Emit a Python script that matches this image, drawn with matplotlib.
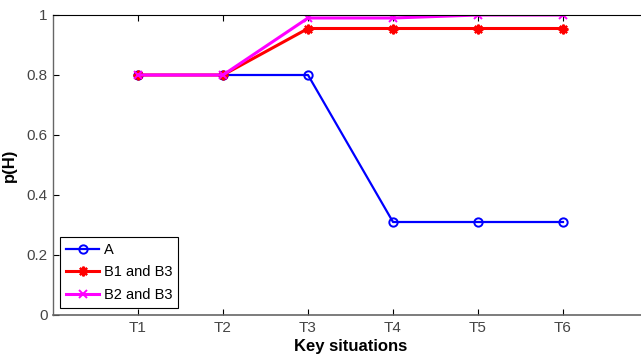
import matplotlib
matplotlib.use("Agg")
import matplotlib.pyplot as plt

# data
situations = ["T1", "T2", "T3", "T4", "T5", "T6"]
x_pos = [1, 2, 3, 4, 5, 6]
p_a = [0.8, 0.8, 0.8, 0.31, 0.31, 0.31]
p_b1b3 = [0.8, 0.8, 0.955, 0.955, 0.955, 0.955]
p_b2b3 = [0.8, 0.8, 0.99, 0.99, 1.0, 1.0]

plt.rcParams["font.family"] = ["Liberation Sans", "DejaVu Sans"]

fig = plt.figure(figsize=(6.41, 3.6), dpi=100)
ax = fig.add_axes([53 / 641, 45 / 360, 595 / 641, 300 / 360])

ax.plot(x_pos, p_a, color="#0000ff", lw=1.6, marker="o", ms=6,
        mfc="none", mec="#0000ff", mew=1.4, label="A")
ax.plot(x_pos, p_b1b3, color="#ff0000", lw=2.2, marker=(8, 2, 0), ms=7,
        mec="#ff0000", mew=1.6, label="B1 and B3")
ax.plot(x_pos, p_b2b3, color="#ff00ff", lw=2.2, marker="x", ms=6,
        mew=1.4, label="B2 and B3")

ax.set_xlim(0, 7)
ax.set_ylim(0, 1)
ax.set_xticks(x_pos)
ax.set_xticklabels(situations)
ax.set_yticks([0, 0.2, 0.4, 0.6, 0.8, 1])
ax.set_yticklabels(["0", "0.2", "0.4", "0.6", "0.8", "1"])
ax.tick_params(direction="in", length=4, width=0.8, colors="black",
               labelcolor="#454545", labelsize=11, top=True, right=True, pad=4)

ax.spines["bottom"].set_color("#666666")
ax.spines["left"].set_color("#666666")
ax.spines["top"].set_color("black")
ax.spines["bottom"].set_linewidth(1.2)
ax.spines["left"].set_linewidth(1.0)

ax.set_xlabel("Key situations", fontsize=12, fontweight="bold", labelpad=3)
ax.set_ylabel("p(H)", fontsize=12, fontweight="bold", labelpad=7)

leg = ax.legend(loc="lower left", bbox_to_anchor=(7 / 595, 7 / 300),
                fontsize=10.5, frameon=True, fancybox=False, framealpha=1,
                edgecolor="black", borderpad=0.4, labelspacing=0.6,
                handlelength=2.3, handletextpad=0.3, borderaxespad=0)
leg.get_frame().set_linewidth(0.8)

fig.savefig("out.png", dpi=100)
